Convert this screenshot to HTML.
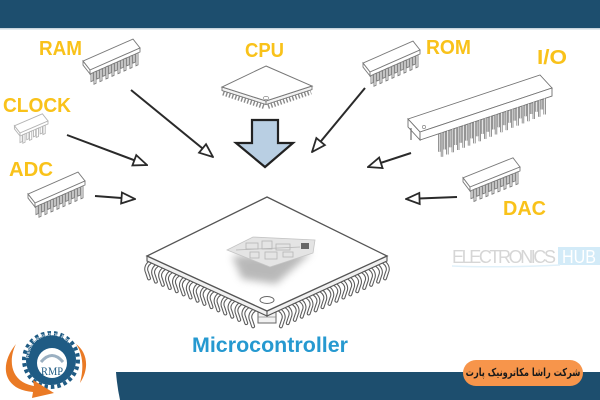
<!DOCTYPE html>
<html><head><meta charset="utf-8"><style>
html,body{margin:0;padding:0;background:#fff;}
#wrap{position:relative;width:600px;height:400px;overflow:hidden;}
svg{display:block;position:absolute;left:0;top:0;}
#pill{position:absolute;left:463px;top:360px;width:120px;height:26px;}
#pill span{position:absolute;left:50%;top:0;line-height:26px;white-space:nowrap;direction:rtl;font-family:"DejaVu Sans",sans-serif;font-weight:bold;font-size:11px;color:#1b1b1b;transform:translateX(-50%) scaleX(0.75);transform-origin:center;}
</style></head><body>
<div id="wrap">
<svg width="600" height="400" viewBox="0 0 600 400" xmlns="http://www.w3.org/2000/svg" xmlns:xlink="http://www.w3.org/1999/xlink">
<defs>
  <marker id="ah" markerWidth="16" markerHeight="14" refX="15" refY="7" orient="auto" markerUnits="userSpaceOnUse" viewBox="0 0 16 14">
    <path d="M1.5,1.5 L15,7 L1.5,12.5 Z" fill="#fff" stroke="#2a2a2a" stroke-width="1.8"/>
  </marker>
  <g id="dip16">
    <g fill="#fff" stroke="#7a7a7a" stroke-width="0.9">
      <rect vector-effect="non-scaling-stroke" x="2" y="-3" width="4" height="15"/>
      <rect vector-effect="non-scaling-stroke" x="14" y="-3" width="4" height="15"/>
      <rect vector-effect="non-scaling-stroke" x="26" y="-3" width="4" height="15"/>
      <rect vector-effect="non-scaling-stroke" x="38" y="-3" width="4" height="15"/>
      <rect vector-effect="non-scaling-stroke" x="50" y="-3" width="4" height="15"/>
      <rect vector-effect="non-scaling-stroke" x="62" y="-3" width="4" height="15"/>
      <rect vector-effect="non-scaling-stroke" x="74" y="-3" width="4" height="15"/>
      <rect vector-effect="non-scaling-stroke" x="86" y="-3" width="4" height="15"/>
      <polygon vector-effect="non-scaling-stroke" points="0,0 100,0 86,-12 -14,-12"/>
      <polygon vector-effect="non-scaling-stroke" points="-14,-12 0,0 0,4 -14,-8"/>
      <rect vector-effect="non-scaling-stroke" x="0" y="0" width="100" height="4"/>
      <rect vector-effect="non-scaling-stroke" x="8" y="4" width="4" height="12"/>
      <rect vector-effect="non-scaling-stroke" x="20" y="4" width="4" height="12"/>
      <rect vector-effect="non-scaling-stroke" x="32" y="4" width="4" height="12"/>
      <rect vector-effect="non-scaling-stroke" x="44" y="4" width="4" height="12"/>
      <rect vector-effect="non-scaling-stroke" x="56" y="4" width="4" height="12"/>
      <rect vector-effect="non-scaling-stroke" x="68" y="4" width="4" height="12"/>
      <rect vector-effect="non-scaling-stroke" x="80" y="4" width="4" height="12"/>
      <rect vector-effect="non-scaling-stroke" x="92" y="4" width="4" height="12"/>
    </g>
  </g>
  <g id="dip8">
    <g fill="#fff" stroke="#b4b4b4" stroke-width="0.9">
      <rect vector-effect="non-scaling-stroke" x="0" y="-4" width="8" height="20"/>
      <rect vector-effect="non-scaling-stroke" x="24" y="-4" width="8" height="20"/>
      <rect vector-effect="non-scaling-stroke" x="48" y="-4" width="8" height="20"/>
      <rect vector-effect="non-scaling-stroke" x="72" y="-4" width="8" height="20"/>
      <polygon vector-effect="non-scaling-stroke" points="0,0 100,0 80,-16 -20,-16"/>
      <polygon vector-effect="non-scaling-stroke" points="-20,-16 0,0 0,5 -20,-11"/>
      <rect vector-effect="non-scaling-stroke" x="0" y="0" width="100" height="5"/>
      <rect vector-effect="non-scaling-stroke" x="10" y="5" width="8" height="14"/>
      <rect vector-effect="non-scaling-stroke" x="34" y="5" width="8" height="14"/>
      <rect vector-effect="non-scaling-stroke" x="58" y="5" width="8" height="14"/>
      <rect vector-effect="non-scaling-stroke" x="82" y="5" width="8" height="14"/>
    </g>
  </g>
  <path id="iofront" d="M442,132.7v24 M447.4,130.9v23.6 M452.8,129.1v23.2 M458.2,127.3v22.7 M463.6,125.5v22.3 M469,123.7v21.9 M474.4,121.9v21.5 M479.8,120.1v21.1 M485.2,118.3v20.6 M490.6,116.5v20.2 M496,114.7v19.8 M501.4,112.9v19.4 M506.8,111.1v19 M512.2,109.3v18.5 M517.6,107.5v18.1 M523,105.7v17.7 M528.4,103.9v17.3 M533.8,102.1v16.9 M539.2,100.3v16.4 M544.6,98.5v16"/>
  <path id="mcpinsL" d="M150,262.4c-3,2-5,6-3,10l2,6 M156.9,265.6c-3,2-5,6-3,10l2,6 M163.9,268.8c-3,2-5,6-3,10l2,6 M170.8,272c-3,2-5,6-3,10l2,6 M177.8,275.2c-3,2-5,6-3,10l2,6 M184.7,278.4c-3,2-5,6-3,10l2,6 M191.6,281.5c-3,2-5,6-3,10l2,6 M198.6,284.7c-3,2-5,6-3,10l2,6 M205.5,287.9c-3,2-5,6-3,10l2,6 M212.5,291.1c-3,2-5,6-3,10l2,6 M219.4,294.3c-3,2-5,6-3,10l2,6 M226.3,297.5c-3,2-5,6-3,10l2,6 M233.3,300.7c-3,2-5,6-3,10l2,6 M240.2,303.9c-3,2-5,6-3,10l2,6 M247.2,307.1c-3,2-5,6-3,10l2,6 M254.1,310.3c-3,2-5,6-3,10l2,6"/>
  <path id="mcpinsR" d="M384,262.4c3,2 5,6 3,10l-2,6 M377.1,265.6c3,2 5,6 3,10l-2,6 M370.1,268.8c3,2 5,6 3,10l-2,6 M363.2,272c3,2 5,6 3,10l-2,6 M356.2,275.2c3,2 5,6 3,10l-2,6 M349.3,278.4c3,2 5,6 3,10l-2,6 M342.4,281.5c3,2 5,6 3,10l-2,6 M335.4,284.7c3,2 5,6 3,10l-2,6 M328.5,287.9c3,2 5,6 3,10l-2,6 M321.5,291.1c3,2 5,6 3,10l-2,6 M314.6,294.3c3,2 5,6 3,10l-2,6 M307.7,297.5c3,2 5,6 3,10l-2,6 M300.7,300.7c3,2 5,6 3,10l-2,6 M293.8,303.9c3,2 5,6 3,10l-2,6 M286.8,307.1c3,2 5,6 3,10l-2,6 M279.9,310.3c3,2 5,6 3,10l-2,6"/>
  <filter id="blur" x="-30%" y="-30%" width="160%" height="160%"><feGaussianBlur stdDeviation="4"/></filter>
  <path id="logoarc" d="M29,358 A22,22 0 0 1 74,358"/>
</defs>

<rect x="0" y="0" width="600" height="400" fill="#ffffff"/>
<rect x="0" y="0" width="600" height="28" fill="#1d4e6e"/>
<rect x="0" y="28" width="600" height="1.5" fill="#c9d5dd"/>
<path d="M116,372 L600,372 L600,400 L120,400 Q117,386 116,372 Z" fill="#1d4e6e"/>

<g font-family="Liberation Sans, Arial, sans-serif" font-weight="bold" font-size="20" fill="#f9c21a">
  <text x="39" y="55" textLength="43" lengthAdjust="spacingAndGlyphs">RAM</text>
  <text x="245" y="57" textLength="39" lengthAdjust="spacingAndGlyphs">CPU</text>
  <text x="426" y="54" textLength="45" lengthAdjust="spacingAndGlyphs">ROM</text>
  <text x="537" y="64" textLength="30" lengthAdjust="spacingAndGlyphs">I/O</text>
  <text x="3" y="112" textLength="68" lengthAdjust="spacingAndGlyphs">CLOCK</text>
  <text x="9" y="176" textLength="44" lengthAdjust="spacingAndGlyphs">ADC</text>
  <text x="503" y="215" textLength="43" lengthAdjust="spacingAndGlyphs">DAC</text>
</g>

<use xlink:href="#dip16" href="#dip16" transform="matrix(0.5,-0.22,0,1,90,70)"/>
<use xlink:href="#dip16" href="#dip16" transform="matrix(0.5,-0.22,0,1,370,72)"/>
<use xlink:href="#dip16" href="#dip16" transform="matrix(0.5,-0.22,0,1,35,203)"/>
<use xlink:href="#dip16" href="#dip16" transform="matrix(0.5,-0.2,0,1,470,187)"/>
<use xlink:href="#dip8" href="#dip8" transform="matrix(0.28,-0.12,0,0.6,20,133)"/>

<g transform="translate(-2.7,-5)">
  <use xlink:href="#iofront" href="#iofront" fill="none" stroke="#7a7a7a" stroke-width="2.4"/>
  <use xlink:href="#iofront" href="#iofront" fill="none" stroke="#ffffff" stroke-width="0.8"/>
</g>
<polygon points="408,119 540,75 552,88 420,132" fill="#fff" stroke="#707070" stroke-width="0.9"/>
<polygon points="408,119 420,132 420,140 408,127" fill="#fff" stroke="#707070" stroke-width="0.9"/>
<polygon points="420,132 552,88 552,96 420,140" fill="#fff" stroke="#707070" stroke-width="0.9"/>
<line x1="411" y1="128" x2="411" y2="140" stroke="#707070" stroke-width="1.2"/>
<use xlink:href="#iofront" href="#iofront" fill="none" stroke="#7a7a7a" stroke-width="2.4"/>
<use xlink:href="#iofront" href="#iofront" fill="none" stroke="#ffffff" stroke-width="0.8"/>
<circle cx="424" cy="127" r="1.6" fill="none" stroke="#888" stroke-width="0.7"/>

<line x1="223" y1="93" x2="264" y2="106.5" stroke="#8a8a8a" stroke-width="5" stroke-dasharray="1.4 1.8"/>
<line x1="268" y1="106.5" x2="311" y2="92" stroke="#8a8a8a" stroke-width="5" stroke-dasharray="1.4 1.8"/>
<polygon points="222,87 266,101 266,104.5 222,90.5" fill="#f2f2f2" stroke="#777" stroke-width="0.9"/>
<polygon points="266,101 312,86 312,89.5 266,104.5" fill="#f2f2f2" stroke="#777" stroke-width="0.9"/>
<polygon points="266,66 312,86 266,101 222,87" fill="#fff" stroke="#777" stroke-width="1"/>
<ellipse cx="266" cy="98" rx="2.8" ry="1.6" fill="#fff" stroke="#888" stroke-width="0.7"/>

<polygon points="252,120 278,120 278,143 293,143 265,167 236,143 252,143" fill="#b9cfe3" stroke="#222" stroke-width="2.2" stroke-linejoin="miter"/>

<g stroke="#2a2a2a" stroke-width="2" fill="none" marker-end="url(#ah)">
  <line x1="131" y1="90" x2="213" y2="157"/>
  <line x1="67" y1="135" x2="147" y2="165"/>
  <line x1="95" y1="196" x2="135" y2="199"/>
  <line x1="365" y1="88" x2="312" y2="152"/>
  <line x1="411" y1="153" x2="368" y2="167"/>
  <line x1="457" y1="197" x2="406" y2="199"/>
</g>

<use xlink:href="#mcpinsL" href="#mcpinsL" fill="none" stroke="#5e5e5e" stroke-width="4" stroke-linecap="round"/>
<use xlink:href="#mcpinsL" href="#mcpinsL" fill="none" stroke="#ffffff" stroke-width="1.8" stroke-linecap="round"/>
<use xlink:href="#mcpinsR" href="#mcpinsR" fill="none" stroke="#5e5e5e" stroke-width="4" stroke-linecap="round"/>
<use xlink:href="#mcpinsR" href="#mcpinsR" fill="none" stroke="#ffffff" stroke-width="1.8" stroke-linecap="round"/>
<rect x="258" y="312" width="18" height="11" fill="#f2f2f2" stroke="#666" stroke-width="1"/>
<line x1="258" y1="317" x2="276" y2="317" stroke="#888" stroke-width="0.8"/>
<polygon points="147,256 267,311 267,316 147,261" fill="#f1f1f1" stroke="#555" stroke-width="1.1"/>
<polygon points="267,311 387,256 387,261 267,316" fill="#f1f1f1" stroke="#555" stroke-width="1.1"/>
<polygon points="267,197 387,256 267,311 147,256" fill="#ffffff" stroke="#555" stroke-width="1.3"/>
<ellipse cx="267" cy="300" rx="7" ry="3.5" fill="#fff" stroke="#666" stroke-width="1"/>
<polygon points="232,256 312,252 276,284 242,279" fill="#8a8a8a" opacity="0.6" filter="url(#blur)"/>
<polygon points="227,250 253,237 315,240 313,253 270,267" fill="#e4e4e4" stroke="#c4c4c4" stroke-width="0.8"/>
<g fill="none" stroke="#b5b5b5" stroke-width="0.8">
  <rect x="246" y="243" width="12" height="6"/>
  <rect x="262" y="241" width="10" height="8"/>
  <rect x="276" y="244" width="14" height="6"/>
  <rect x="250" y="252" width="9" height="6"/>
  <rect x="265" y="252" width="12" height="7"/>
  <rect x="283" y="252" width="10" height="5"/>
  <line x1="236" y1="250" x2="300" y2="247"/>
</g>
<rect x="301" y="243" width="8" height="6" fill="#666"/>

<text x="192" y="352" font-family="Liberation Sans, Arial, sans-serif" font-weight="bold" font-size="21" fill="#2699d0" textLength="156" lengthAdjust="spacingAndGlyphs">Microcontroller</text>

<text x="452" y="263" font-family="Liberation Sans, Arial, sans-serif" font-size="18" fill="#d6d6d6" textLength="104" lengthAdjust="spacing">ELECTRONICS</text>
<rect x="558" y="247" width="42" height="18" fill="#d3ebf8"/>
<text x="562" y="263" font-family="Liberation Sans, Arial, sans-serif" font-size="18" fill="#ffffff" textLength="34" lengthAdjust="spacingAndGlyphs">HUB</text>
<path d="M452,266 Q500,268 560,265" stroke="#e0f0f9" stroke-width="1.5" fill="none"/>

<rect x="463" y="360" width="120" height="26" rx="13" fill="#f7954b"/>

<g>
  <circle cx="51" cy="360" r="25" fill="#1f5b84"/>
  <circle cx="51" cy="360" r="27" fill="none" stroke="#1f5b84" stroke-width="4" stroke-dasharray="3.5 3"/>
  <text font-family="Liberation Sans, Arial, sans-serif" font-size="5" fill="#ffffff"><textPath xlink:href="#logoarc" href="#logoarc">Rasha Mechatronic Part</textPath></text>
  <circle cx="52" cy="363" r="15" fill="#ffffff"/>
  <path d="M41,362 Q52,349 63,362" fill="none" stroke="#9bb0c2" stroke-width="3"/>
  <text x="52" y="375" text-anchor="middle" font-family="Liberation Serif, serif" font-size="12" fill="#1f5b84" textLength="22" lengthAdjust="spacingAndGlyphs">RMP</text>
  <path d="M16,344 C8,360 10,382 34,386 L33,380 L54,393 L32,398 L33,392 C4,390 -2,366 16,344 Z" fill="#ea7a25"/>
  <path d="M76,344 C87,352 90,368 80,383 C84,368 83,354 76,344 Z" fill="#ea7a25"/>
</g>
</svg>
<div id="pill"><span>شرکت راشا مکاترونیک پارت</span></div>
</div>
</body></html>
